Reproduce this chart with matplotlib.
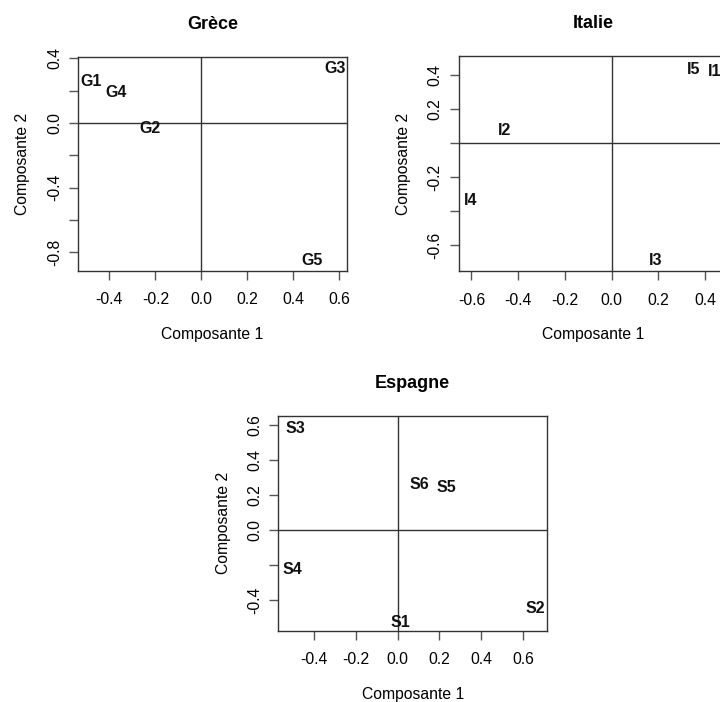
"""
Projection des individus sur les deux premieres composantes (Grece, Italie, Espagne)
"""
import matplotlib
matplotlib.use("Agg")
import matplotlib.pyplot as plt

plt.rcParams['font.family'] = ['Liberation Sans', 'DejaVu Sans']

# Grece
greece_names = ["G1", "G2", "G3", "G4", "G5"]
greece_x = [-0.482, -0.223, 0.585, -0.372, 0.483]
greece_y = [0.256, -0.032, 0.34, 0.189, -0.853]

# Italie
italy_names = ["I1", "I2", "I3", "I4", "I5"]
italy_x = [0.44, -0.457, 0.19, -0.602, 0.349]
italy_y = [0.418, 0.076, -0.686, -0.338, 0.432]

# Espagne
spain_names = ["S1", "S2", "S3", "S4", "S5", "S6"]
spain_x = [0.014, 0.659, -0.486, -0.504, 0.234, 0.102]
spain_y = [-0.53, -0.446, 0.577, -0.225, 0.242, 0.261]


def draw_panel(ax, title, names, xs, ys, xlim, ylim, xticks, yticks, ylabels):
    """
    Trace un panneau : noms des individus + axes h=0, v=0
    """
    for n, x, y in zip(names, xs, ys):
        ax.text(x, y, n, ha="center", va="center", fontsize=11.5,
                fontweight="bold", color="#111111")
    ax.axhline(0, color="#333333", linewidth=1)
    ax.axvline(0, color="#333333", linewidth=1)
    ax.set_xlim(xlim)
    ax.set_ylim(ylim)
    ax.set_xticks(xticks)
    ax.set_xticklabels(["%.1f" % t for t in xticks])
    ax.set_yticks(yticks)
    ax.set_yticklabels(ylabels, rotation=90, va="center")
    ax.tick_params(direction="out", length=6.5, width=1, color="#555555",
                   labelsize=11.3)
    ax.tick_params(axis="x", pad=9)
    ax.tick_params(axis="y", pad=5)
    for s in ax.spines.values():
        s.set_color("#333333")
        s.set_linewidth(1)
    ax.set_title(title, fontsize=13, fontweight="bold", pad=20)
    ax.set_xlabel("Composante 1", fontsize=11.3, labelpad=14)
    ax.set_ylabel("Composante 2", fontsize=11.3, labelpad=12)


fig = plt.figure(figsize=(7.2, 7.02), dpi=100)

ax1 = fig.add_axes([0.1083, 0.614, 0.3736, 0.305])
draw_panel(ax1, "Grèce", greece_names, greece_x, greece_y,
           (-0.537, 0.635), (-0.916, 0.41),
           [-0.4, -0.2, 0.0, 0.2, 0.4, 0.6],
           [-0.8, -0.6, -0.4, -0.2, 0.0, 0.2, 0.4],
           ["-0.8", "", "-0.4", "", "0.0", "", "0.4"])

ax2 = fig.add_axes([0.637, 0.6135, 0.3736, 0.3067])
draw_panel(ax2, "Italie", italy_names, italy_x, italy_y,
           (-0.655, 0.496), (-0.752, 0.51),
           [-0.6, -0.4, -0.2, 0.0, 0.2, 0.4],
           [-0.6, -0.4, -0.2, 0.0, 0.2, 0.4],
           ["-0.6", "", "-0.2", "", "0.2", "0.4"])

ax3 = fig.add_axes([0.3865, 0.1016, 0.3736, 0.3058])
draw_panel(ax3, "Espagne", spain_names, spain_x, spain_y,
           (-0.570, 0.715), (-0.575, 0.651),
           [-0.4, -0.2, 0.0, 0.2, 0.4, 0.6],
           [-0.4, -0.2, 0.0, 0.2, 0.4, 0.6],
           ["-0.4", "", "0.0", "0.2", "0.4", "0.6"])

fig.savefig("out.png", dpi=100)
